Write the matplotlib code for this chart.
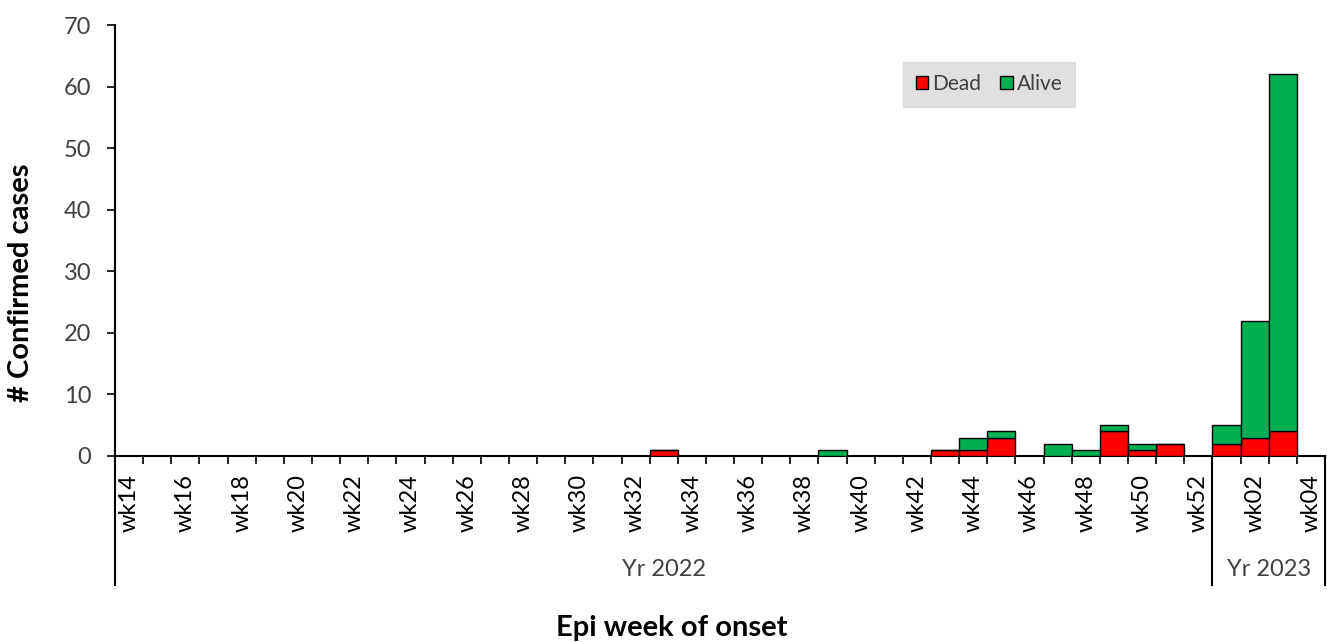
import matplotlib
matplotlib.use("Agg")
import matplotlib.pyplot as plt
from matplotlib.patches import Patch
from matplotlib.lines import Line2D

plt.rcParams['font.family'] = ['Lato', 'DejaVu Sans']

weeks_2022 = [f"wk{w:02d}" for w in range(14, 53)]
weeks_2023 = ["wk01", "wk02", "wk03", "wk04"]
weeks = weeks_2022 + weeks_2023

dead_cases = {"wk33": 1, "wk43": 1, "wk44": 1, "wk45": 3, "wk49": 4, "wk50": 1,
              "wk51": 2, "wk01": 2, "wk02": 3, "wk03": 4}
alive_cases = {"wk39": 1, "wk44": 2, "wk45": 1, "wk47": 2, "wk48": 1, "wk49": 1,
               "wk50": 1, "wk01": 3, "wk02": 19, "wk03": 58}
year_labels = ["Yr 2022", "Yr 2023"]

dead = [dead_cases.get(w, 0) for w in weeks]
alive = [alive_cases.get(w, 0) for w in weeks]
n = len(weeks)
n22 = len(weeks_2022)

RED = "#FF0000"
GREEN = "#00B050"
TXT = "#404040"
FS = 17

fig = plt.figure(figsize=(13.27, 6.42), dpi=100)
ax = fig.add_axes([115/1327, 1-456/642, 1210/1327, 431/642])

x = [i + 0.5 for i in range(n)]
ax.bar(x, dead, width=1.0, color=RED, edgecolor="black", linewidth=1.0, zorder=3)
ax.bar(x, alive, width=1.0, bottom=dead, color=GREEN, edgecolor="black", linewidth=1.0, zorder=3)

ax.set_xlim(0, n)
ax.set_ylim(0, 70)
ax.set_yticks(range(0, 71, 10))
ax.tick_params(axis='y', direction='out', length=6, width=1.2, pad=11,
               labelsize=FS, labelcolor=TXT, color='black')

# category boundary ticks
ax.set_xticks(range(0, n + 1))
ax.tick_params(axis='x', which='major', direction='out', length=6, width=1.2,
               labelbottom=False, color='black')
# labels every other week at category centres
lab_pos = [i + 0.5 for i in range(0, n, 2)]
ax.set_xticks(lab_pos, minor=True)
ax.set_xticklabels([weeks[i] for i in range(0, n, 2)], minor=True, rotation=90,
                   va='top', ha='center')
ax.tick_params(axis='x', which='minor', length=0, pad=13, labelsize=FS,
               labelcolor='black')

for s in ['top', 'right']:
    ax.spines[s].set_visible(False)
ax.spines['left'].set_linewidth(1.5)
ax.spines['bottom'].set_linewidth(1.5)

# multi-level category axis separators
trans = ax.get_xaxis_transform()
ylow = (456 - 585) / 431
for xv in [0, n22, n]:
    ax.add_line(Line2D([xv, xv], [0, ylow], transform=trans, color='black',
                       linewidth=1.5, clip_on=False))

ax.text(n22 / 2, (456 - 570) / 431, year_labels[0], transform=trans, ha='center',
        va='center', fontsize=FS, color=TXT)
ax.text((n22 + n) / 2, (456 - 570) / 431, year_labels[1], transform=trans,
        ha='center', va='center', fontsize=FS, color=TXT)

ax.set_ylabel("# Confirmed cases", fontsize=21, fontweight='bold', color='black')
ax.yaxis.set_label_coords(-81/1210, (456 - 283) / 431)
fig.text(672/1327, 1-628/642, "Epi week of onset", ha='center', va='center',
         fontsize=21, fontweight='bold')

handles = [Patch(facecolor=RED, edgecolor='black', label='Dead'),
           Patch(facecolor=GREEN, edgecolor='black', label='Alive')]
leg = ax.legend(handles=handles, loc='center', bbox_to_anchor=(989/1327, 1-84/642),
                bbox_transform=fig.transFigure, ncol=2, frameon=True, fontsize=15,
                handlelength=0.6, handleheight=0.6, handletextpad=0.2,
                columnspacing=0.9, borderpad=0.6, borderaxespad=0, fancybox=False)
leg.get_frame().set_facecolor('#D9D9D9')
leg.get_frame().set_edgecolor('#D9D9D9')
for t in leg.get_texts():
    t.set_color(TXT)

fig.savefig("out.png", dpi=100)
